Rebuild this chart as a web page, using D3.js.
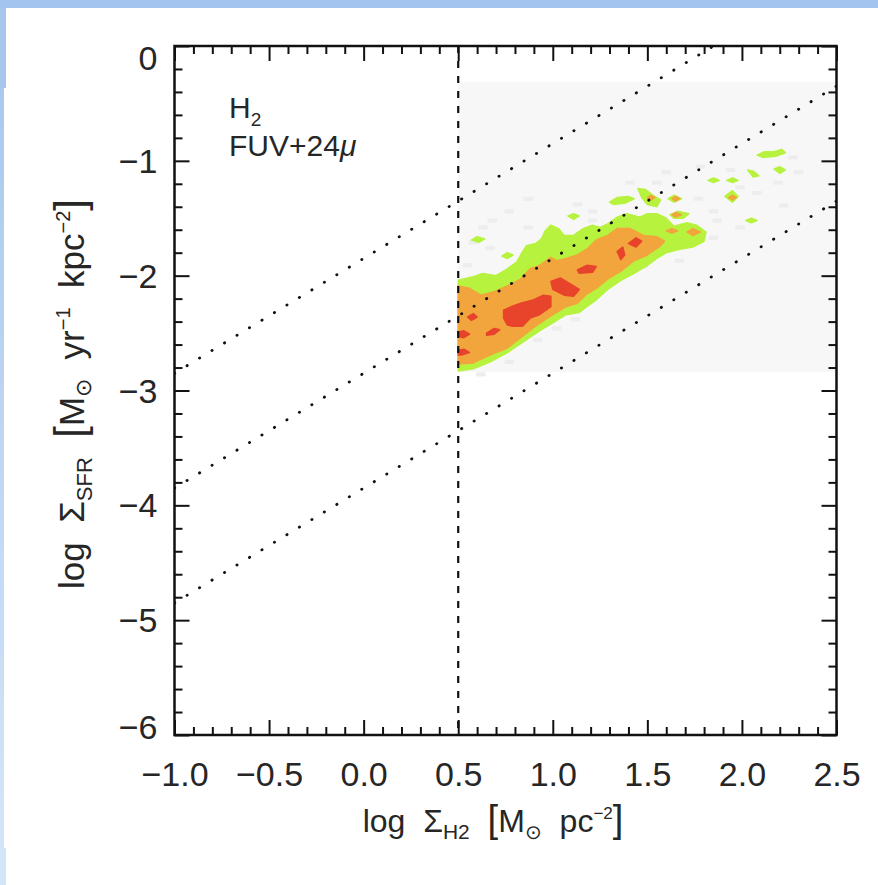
<!DOCTYPE html>
<html>
<head>
<meta charset="utf-8">
<script src="https://cdn.jsdelivr.net/npm/d3@7"></script>
<style>
  html, body { margin: 0; padding: 0; background: #ffffff; }
  svg { display: block; }
  text { font-family: "Liberation Sans", Arial, Helvetica, sans-serif; fill: #262626; }
</style>
</head>
<body>
<svg id="chart" width="878" height="885"></svg>
<script>
// ---- axis ticks ----
const xTickValues = [-1.0, -0.5, 0.0, 0.5, 1.0, 1.5, 2.0, 2.5];
const xTickLabels = ["\u22121.0", "\u22120.5", "0.0", "0.5", "1.0", "1.5", "2.0", "2.5"];
const yTickValues = [0, -1, -2, -3, -4, -5, -6];
const yTickLabels = ["0", "\u22121", "\u22122", "\u22123", "\u22124", "\u22125", "\u22126"];

// ---- constant depletion-time lines: log SFR = log H2 + offset ----
const depletionOffsets = [-1.85, -2.85, -3.85];
// sensitivity cut in log H2
const h2Cut = 0.5;

// ---- extent of the binned pixel image (log H2, log SFR) ----
const imageX = [0.5, 2.5];
const imageY = [-2.84, -0.31];

// ---- sparsely populated bins (centres) ----
const sparseBins = [
  [0.87,-1.33],[0.77,-1.44],[0.68,-1.52],[0.63,-1.58],[0.87,-1.58],[1.13,-1.38],
  [1.21,-1.44],[1.21,-1.52],[1.41,-1.19],[1.55,-1.19],[1.78,-1.05],[1.94,-1.08],
  [1.99,-1.23],[2.08,-1.28],[2.19,-1.19],[2.27,-0.97],[1.77,-1.33],[1.85,-1.44],
  [1.87,-1.52],[1.99,-1.58],[2.22,-1.39],[1.85,-1.67],[1.67,-1.87],[1.48,-1.92],
  [1.07,-2.32],[1.02,-2.46],[0.92,-2.56],[0.77,-2.75],[0.58,-1.71],[0.55,-1.91],
  [0.67,-1.76],[1.30,-2.02],[1.12,-2.38],[0.62,-2.86],[2.30,-1.10],[1.60,-1.10]
];

// ---- density contours: lowest level (green) ----
const levelLow = [
  [[0.50,-2.83],[0.58,-2.81],[0.67,-2.75],[0.76,-2.67],[0.84,-2.58],[0.93,-2.48],[1.00,-2.41],
   [1.07,-2.34],[1.14,-2.32],[1.18,-2.27],[1.23,-2.21],[1.29,-2.12],[1.36,-2.04],[1.43,-1.98],
   [1.50,-1.91],[1.55,-1.85],[1.60,-1.80],[1.67,-1.77],[1.74,-1.75],[1.80,-1.70],[1.81,-1.62],
   [1.76,-1.56],[1.71,-1.54],[1.64,-1.57],[1.60,-1.50],[1.55,-1.46],[1.50,-1.46],[1.46,-1.49],
   [1.39,-1.46],[1.34,-1.49],[1.29,-1.55],[1.25,-1.58],[1.21,-1.56],[1.16,-1.59],[1.11,-1.65],
   [1.06,-1.65],[1.03,-1.59],[0.99,-1.56],[0.96,-1.61],[0.94,-1.68],[0.91,-1.72],[0.86,-1.74],
   [0.83,-1.82],[0.81,-1.88],[0.76,-1.94],[0.70,-2.00],[0.63,-1.98],[0.58,-2.01],[0.50,-2.04]],
  [[0.57,-1.69],[0.60,-1.66],[0.64,-1.68],[0.61,-1.71]],
  [[0.73,-1.83],[0.76,-1.80],[0.79,-1.82],[0.76,-1.85]],
  [[1.08,-1.48],[1.11,-1.46],[1.14,-1.48],[1.11,-1.51]],
  [[1.30,-1.36],[1.34,-1.32],[1.40,-1.31],[1.43,-1.33],[1.38,-1.37],[1.32,-1.38]],
  [[1.45,-1.24],[1.49,-1.25],[1.53,-1.30],[1.57,-1.34],[1.55,-1.40],[1.50,-1.38],[1.47,-1.32]],
  [[1.61,-1.33],[1.64,-1.30],[1.68,-1.33],[1.64,-1.36]],
  [[1.62,-1.47],[1.66,-1.44],[1.72,-1.46],[1.69,-1.50],[1.64,-1.50]],
  [[1.82,-1.17],[1.85,-1.15],[1.88,-1.17],[1.85,-1.19]],
  [[1.92,-1.17],[1.95,-1.15],[1.98,-1.17],[1.95,-1.19]],
  [[1.91,-1.31],[1.95,-1.26],[1.98,-1.31],[1.95,-1.36]],
  [[2.02,-1.52],[2.05,-1.50],[2.08,-1.52],[2.05,-1.54]],
  [[2.03,-1.08],[2.06,-1.09],[2.09,-1.13],[2.06,-1.14]],
  [[2.08,-0.95],[2.12,-0.92],[2.17,-0.92],[2.21,-0.90],[2.23,-0.93],[2.18,-0.96],[2.11,-0.97]],
  [[2.17,-1.07],[2.20,-1.05],[2.23,-1.08],[2.20,-1.11]]
];

// ---- middle level (orange) ----
const levelMid = [
  [[0.50,-2.77],[0.58,-2.76],[0.67,-2.69],[0.76,-2.63],[0.83,-2.54],[0.90,-2.45],[0.99,-2.35],
   [1.07,-2.27],[1.13,-2.24],[1.18,-2.16],[1.23,-2.11],[1.29,-2.03],[1.36,-1.96],[1.43,-1.87],
   [1.50,-1.82],[1.57,-1.74],[1.59,-1.70],[1.55,-1.66],[1.48,-1.65],[1.41,-1.59],[1.34,-1.59],
   [1.29,-1.65],[1.23,-1.69],[1.18,-1.77],[1.13,-1.82],[1.07,-1.85],[1.02,-1.87],[0.99,-1.84],
   [0.93,-1.91],[0.88,-1.94],[0.83,-2.03],[0.76,-2.09],[0.69,-2.14],[0.62,-2.17],[0.56,-2.11],
   [0.50,-2.09]],
  [[1.60,-1.61],[1.63,-1.59],[1.66,-1.61],[1.63,-1.63]],
  [[1.71,-1.62],[1.74,-1.59],[1.78,-1.62],[1.74,-1.65]],
  [[1.50,-1.32],[1.52,-1.30],[1.54,-1.32],[1.52,-1.34]],
  [[1.63,-1.33],[1.65,-1.31],[1.67,-1.33],[1.65,-1.35]],
  [[1.63,-1.47],[1.65,-1.45],[1.68,-1.47],[1.65,-1.49]],
  [[1.93,-1.32],[1.95,-1.30],[1.97,-1.32],[1.95,-1.34]]
];

// ---- highest level (red) ----
const levelHigh = [
  [[0.74,-2.30],[0.78,-2.27],[0.83,-2.24],[0.90,-2.21],[0.95,-2.17],[0.99,-2.18],[0.99,-2.27],
   [0.93,-2.34],[0.88,-2.37],[0.84,-2.44],[0.79,-2.44],[0.76,-2.43],[0.74,-2.37]],
  [[0.99,-2.05],[1.04,-2.02],[1.09,-2.07],[1.14,-2.12],[1.11,-2.18],[1.06,-2.17],[1.00,-2.12]],
  [[1.13,-1.95],[1.18,-1.91],[1.23,-1.92],[1.21,-1.97],[1.14,-1.98]],
  [[1.40,-1.72],[1.44,-1.67],[1.47,-1.70],[1.44,-1.75]],
  [[1.34,-1.79],[1.37,-1.75],[1.38,-1.82],[1.36,-1.86]],
  [[0.50,-2.49],[0.53,-2.48],[0.56,-2.51],[0.53,-2.54],[0.50,-2.53]],
  [[0.50,-2.65],[0.53,-2.64],[0.56,-2.67],[0.52,-2.69],[0.50,-2.69]],
  [[0.65,-2.50],[0.69,-2.46],[0.72,-2.47],[0.69,-2.51],[0.65,-2.52]],
  [[0.55,-2.36],[0.58,-2.33],[0.60,-2.36],[0.57,-2.39]]
];

const levelColors = { low: "#b7f23e", mid: "#f2a53c", high: "#e8432b" };

// ---- layout ----
const svg = d3.select("#chart");
const W = 878, H = 885;
const plot = { left: 174.5, right: 836.5, top: 46, bottom: 735 };

// page edge decoration
const defs = svg.append("defs");
const grad = defs.append("linearGradient").attr("id", "edgeGrad")
  .attr("x1", 0).attr("y1", 0).attr("x2", 0).attr("y2", 1);
grad.append("stop").attr("offset", "0%").attr("stop-color", "#abc9ef");
grad.append("stop").attr("offset", "100%").attr("stop-color", "#d3e5f8");
svg.append("rect").attr("x", 0).attr("y", 0).attr("width", W).attr("height", 8).attr("fill", "#a3c4ee");
svg.append("rect").attr("x", 0).attr("y", 8).attr("width", 6).attr("height", 80).attr("fill", "#a7c7ef");
svg.append("rect").attr("x", 0).attr("y", 88).attr("width", 4).attr("height", 760).attr("fill", "url(#edgeGrad)");
svg.append("rect").attr("x", 0).attr("y", 848).attr("width", 6).attr("height", H - 848).attr("fill", "#d3e5f8");

const x = d3.scaleLinear().domain([-1, 2.5]).range([plot.left, plot.right]);
const y = d3.scaleLinear().domain([-6, 0]).range([plot.bottom, plot.top]);

defs.append("clipPath").attr("id", "plotClip").append("rect")
  .attr("x", plot.left).attr("y", plot.top)
  .attr("width", plot.right - plot.left).attr("height", plot.bottom - plot.top);

const data = svg.append("g").attr("clip-path", "url(#plotClip)");

// binned image background
data.append("rect")
  .attr("x", x(imageX[0])).attr("y", y(imageY[1]))
  .attr("width", x(imageX[1]) - x(imageX[0]))
  .attr("height", y(imageY[0]) - y(imageY[1]))
  .attr("fill", "#f7f7f7");

data.selectAll("rect.bin").data(sparseBins).join("rect")
  .attr("class", "bin")
  .attr("x", d => x(d[0] - 0.025)).attr("y", d => y(d[1] + 0.018))
  .attr("width", x(0.05) - x(0)).attr("height", y(-0.036) - y(0))
  .attr("fill", "#ededed");

const area = d3.line().x(d => x(d[0])).y(d => y(d[1])).curve(d3.curveLinearClosed);

[["low", levelLow], ["mid", levelMid], ["high", levelHigh]].forEach(([k, polys]) => {
  data.append("g").selectAll("path").data(polys).join("path")
    .attr("d", area)
    .attr("fill", levelColors[k])
    .attr("stroke", levelColors[k])
    .attr("stroke-width", 1.5)
    .attr("stroke-linejoin", "round");
});

// depletion-time lines
data.selectAll("line.dep").data(depletionOffsets).join("line")
  .attr("class", "dep")
  .attr("x1", x(-1)).attr("y1", d => y(-1 + d))
  .attr("x2", x(2.5)).attr("y2", d => y(2.5 + d))
  .attr("stroke", "#111").attr("stroke-width", 2.8)
  .attr("stroke-linecap", "round")
  .attr("stroke-dasharray", "0.3,14.3");

// sensitivity cut
data.append("line")
  .attr("x1", x(h2Cut)).attr("x2", x(h2Cut))
  .attr("y1", y(0)).attr("y2", y(-6))
  .attr("stroke", "#111").attr("stroke-width", 2.2)
  .attr("stroke-dasharray", "7,8");

// ---- axes ----
const xMinor = d3.range(-10, 26).filter(i => i % 5 !== 0).map(i => i / 10);
const yMinor = d3.range(-30, 1).filter(i => i % 5 !== 0).map(i => i / 5);

function styleAxis(g) {
  g.select(".domain").remove();
  g.selectAll(".tick line").attr("stroke", "#111").attr("stroke-width", 2);
  g.selectAll("text").style("font-size", "34px").attr("fill", "#262626");
}

svg.append("g").attr("transform", `translate(0,${plot.bottom})`)
  .call(d3.axisBottom(x).tickValues(xTickValues).tickSizeInner(-15).tickSizeOuter(0)
    .tickPadding(27).tickFormat((d, i) => xTickLabels[i]))
  .call(styleAxis);
svg.append("g").attr("transform", `translate(0,${plot.bottom})`)
  .call(d3.axisBottom(x).tickValues(xMinor).tickSizeInner(-8).tickSizeOuter(0).tickFormat(""))
  .call(styleAxis);
svg.append("g").attr("transform", `translate(0,${plot.top})`)
  .call(d3.axisTop(x).tickValues(xTickValues).tickSizeInner(-15).tickSizeOuter(0).tickFormat(""))
  .call(styleAxis);
svg.append("g").attr("transform", `translate(0,${plot.top})`)
  .call(d3.axisTop(x).tickValues(xMinor).tickSizeInner(-8).tickSizeOuter(0).tickFormat(""))
  .call(styleAxis);

const yLeft = svg.append("g").attr("transform", `translate(${plot.left},0)`)
  .call(d3.axisLeft(y).tickValues(yTickValues).tickSizeInner(-15).tickSizeOuter(0)
    .tickPadding(17).tickFormat((d, i) => yTickLabels[i]))
  .call(styleAxis);
// end labels sit inside the axis span
yLeft.selectAll(".tick text").attr("dy", d => d === 0 ? "0.68em" : d === -6 ? "0.1em" : "0.34em");
svg.append("g").attr("transform", `translate(${plot.left},0)`)
  .call(d3.axisLeft(y).tickValues(yMinor).tickSizeInner(-8).tickSizeOuter(0).tickFormat(""))
  .call(styleAxis);
svg.append("g").attr("transform", `translate(${plot.right},0)`)
  .call(d3.axisRight(y).tickValues(yTickValues).tickSizeInner(-15).tickSizeOuter(0).tickFormat(""))
  .call(styleAxis);
svg.append("g").attr("transform", `translate(${plot.right},0)`)
  .call(d3.axisRight(y).tickValues(yMinor).tickSizeInner(-8).tickSizeOuter(0).tickFormat(""))
  .call(styleAxis);

// frame
svg.append("rect")
  .attr("x", plot.left).attr("y", plot.top)
  .attr("width", plot.right - plot.left).attr("height", plot.bottom - plot.top)
  .attr("fill", "none").attr("stroke", "#111").attr("stroke-width", 2.5);

// ---- titles ----
const xt = svg.append("text")
  .attr("x", 493).attr("y", 832)
  .attr("text-anchor", "middle").style("font-size", "32px")
  .attr("xml:space", "preserve");
xt.append("tspan").text("log  \u03A3");
xt.append("tspan").attr("dy", 7).style("font-size", "21px").text("H2");
xt.append("tspan").attr("dy", -7).text("  ");
xt.append("tspan").style("font-size", "38px").text("[");
xt.append("tspan").text("M");
xt.append("tspan").attr("dy", 7).style("font-size", "20px").text("\u2299");
xt.append("tspan").attr("dy", -7).text("  pc");
xt.append("tspan").attr("dy", -13).style("font-size", "17px").text("\u22122");
xt.append("tspan").attr("dy", 13).style("font-size", "38px").text("]");

const yt = svg.append("text")
  .attr("transform", "translate(84,394) rotate(-90)")
  .attr("text-anchor", "middle").style("font-size", "35px")
  .attr("xml:space", "preserve");
yt.append("tspan").text("log  \u03A3");
yt.append("tspan").attr("dy", 8).style("font-size", "22px").text("SFR");
yt.append("tspan").attr("dy", -8).text("  ");
yt.append("tspan").style("font-size", "42px").text("[");
yt.append("tspan").text("M");
yt.append("tspan").attr("dy", 7).style("font-size", "22px").text("\u2299");
yt.append("tspan").attr("dy", -7).text("  yr");
yt.append("tspan").attr("dy", -14).style("font-size", "20px").text("\u22121");
yt.append("tspan").attr("dy", 14).text("  kpc");
yt.append("tspan").attr("dy", -14).style("font-size", "20px").text("\u22122");
yt.append("tspan").attr("dy", 14).style("font-size", "42px").text("]");

// ---- panel annotation ----
const a1 = svg.append("text").attr("x", 229).attr("y", 118).style("font-size", "30px");
a1.append("tspan").text("H");
a1.append("tspan").attr("dy", 8).style("font-size", "19px").text("2");
svg.append("text").attr("x", 229).attr("y", 156).style("font-size", "30px")
  .html('FUV+24<tspan font-style="italic">\u03BC</tspan>');
</script>
</body>
</html>
